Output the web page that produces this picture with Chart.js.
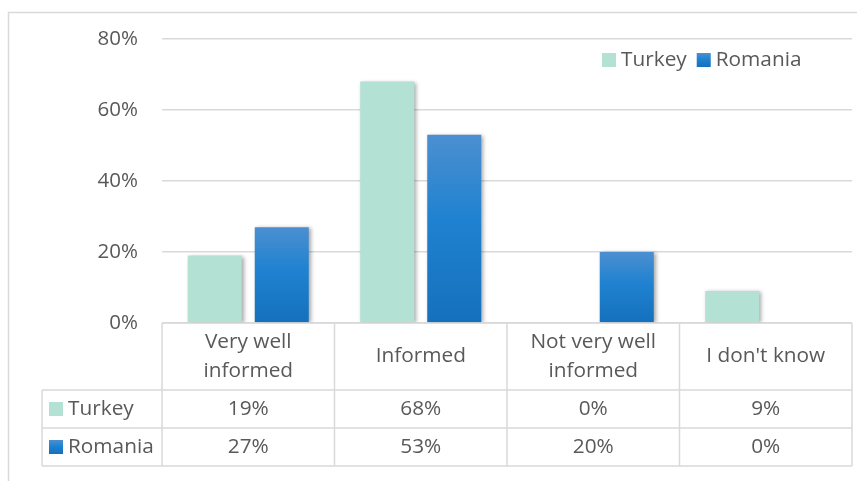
<!DOCTYPE html>
<html>
<head>
<meta charset="utf-8">
<script src="https://cdn.jsdelivr.net/npm/chart.js@4.4.1/dist/chart.umd.min.js"></script>
<style>
  html, body { margin: 0; padding: 0; background: #fff; }
  #wrap { width: 857px; height: 481px; }
</style>
</head>
<body>
<div id="wrap"><canvas id="chart" width="857" height="481"></canvas></div>
<script>
const categories = [['Very well', 'informed'], ['Informed'], ['Not very well', 'informed'], ["I don't know"]];
const seriesNames = ['Turkey', 'Romania'];
const turkey = [19, 68, 0, 9];
const romania = [27, 53, 20, 0];
const yTicks = [0, 20, 40, 60, 80];

const textColor = '#595959';
const lineColor = '#D9D9D9';
const turkeyColor = '#B3E2D5';
const font = '20.8px "Open Sans"';

function blueGradient(ctx, top, bottom) {
    const g = ctx.createLinearGradient(0, top, 0, bottom);
    g.addColorStop(0, '#4C8FD0');
    g.addColorStop(0.45, '#1F82D0');
    g.addColorStop(1, '#1570BC');
    return g;
}

const romaniaFill = (context) => {
    const chart = context.chart;
    if (!chart.chartArea || context.raw === undefined) return '#1F82D0';
    const y = chart.scales.y;
    const top = y.getPixelForValue(context.raw);
    const bottom = y.getPixelForValue(0);
    if (bottom - top < 1) return '#1F82D0';
    return blueGradient(chart.ctx, top, bottom);
};

// soft drop shadow under the bars
const shadowPlugin = {
    id: 'shadow',
    beforeDatasetsDraw(chart) {
        const ctx = chart.ctx;
        ctx.save();
        ctx.shadowColor = 'rgba(0,0,0,0.35)';
        ctx.shadowBlur = 4;
        ctx.shadowOffsetX = 2;
        ctx.shadowOffsetY = 1;
    },
    afterDatasetsDraw(chart) {
        chart.ctx.restore();
    }
};

// frame, legend and the data table under the plot
const tablePlugin = {
    id: 'table',
    beforeDraw(chart) {
        const ctx = chart.ctx;
        ctx.save();
        ctx.fillStyle = '#fff';
        ctx.fillRect(0, 0, chart.width, chart.height);
        ctx.strokeStyle = lineColor;
        ctx.lineWidth = 1.5;
        ctx.beginPath();
        ctx.moveTo(8.5, chart.height);
        ctx.lineTo(8.5, 12.5);
        ctx.lineTo(chart.width, 12.5);
        ctx.stroke();
        ctx.restore();
    },
    afterDraw(chart) {
        const ctx = chart.ctx;
        const x = chart.scales.x;
        const area = chart.chartArea;
        const n = categories.length;
        const cw = (x.right - x.left) / n;
        const top = area.bottom;
        const r1 = 390, r2 = 428, r3 = 466;
        const labelLeft = 42;
        const series = [turkey, romania];
        const swatches = [turkeyColor, null];

        ctx.save();
        ctx.strokeStyle = lineColor;
        ctx.lineWidth = 1.5;
        ctx.beginPath();
        ctx.moveTo(x.left, top); ctx.lineTo(x.right, top);
        [r1, r2, r3].forEach(yy => { ctx.moveTo(labelLeft, yy); ctx.lineTo(x.right, yy); });
        ctx.moveTo(labelLeft, r1); ctx.lineTo(labelLeft, r3);
        for (let i = 0; i <= n; i++) {
            const xx = x.left + i * cw;
            ctx.moveTo(xx, top); ctx.lineTo(xx, r3);
        }
        ctx.stroke();

        ctx.font = font;
        ctx.fillStyle = textColor;
        ctx.textAlign = 'center';
        ctx.textBaseline = 'middle';
        categories.forEach((lines, i) => {
            const cx = x.getPixelForValue(i);
            const mid = (top + r1) / 2;
            const lh = 29;
            lines.forEach((t, k) => {
                ctx.fillText(t, cx, mid + (k - (lines.length - 1) / 2) * lh);
            });
        });

        const rows = [[r1, r2], [r2, r3]];
        series.forEach((vals, s) => {
            const cy = (rows[s][0] + rows[s][1]) / 2;
            vals.forEach((v, i) => {
                ctx.fillStyle = textColor;
                ctx.textAlign = 'center';
                ctx.fillText(v + '%', x.getPixelForValue(i), cy);
            });
            ctx.fillStyle = swatches[s] || blueGradient(ctx, cy - 7, cy + 7);
            ctx.fillRect(49, cy - 7, 14, 14);
            ctx.fillStyle = textColor;
            ctx.textAlign = 'left';
            ctx.fillText(seriesNames[s], 68, cy);
        });

        // legend
        const ly = 60;
        let lx = 602;
        seriesNames.forEach((name, s) => {
            ctx.fillStyle = swatches[s] || blueGradient(ctx, ly - 7, ly + 7);
            ctx.fillRect(lx, ly - 7, 14, 14);
            ctx.fillStyle = textColor;
            ctx.textAlign = 'left';
            ctx.fillText(name, lx + 19, ly);
            lx += 19 + ctx.measureText(name).width + 10;
        });
        ctx.restore();
    }
};

new Chart(document.getElementById('chart'), {
    type: 'bar',
    data: {
        labels: categories,
        datasets: [{
            label: seriesNames[0],
            data: turkey,
            backgroundColor: turkeyColor,
            borderWidth: 0
        }, {
            label: seriesNames[1],
            data: romania,
            backgroundColor: romaniaFill,
            borderWidth: 0
        }]
    },
    options: {
        responsive: false,
        animation: false,
        categoryPercentage: 0.777,
        barPercentage: 0.806,
        layout: { padding: { left: 0, top: 39, right: 5, bottom: 158 } },
        plugins: {
            legend: { display: false },
            tooltip: { enabled: false }
        },
        scales: {
            x: { display: false },
            y: {
                min: 0,
                max: 80,
                afterFit: (s) => { s.width = 162; },
                afterBuildTicks: (s) => { s.ticks = yTicks.map(v => ({ value: v })); },
                grid: { color: lineColor, lineWidth: 1.5, drawTicks: false },
                border: { display: false },
                ticks: {
                    padding: 24,
                    color: textColor,
                    font: { family: 'Open Sans', size: 20.5 },
                    callback: (v) => v + '%'
                }
            }
        }
    },
    plugins: [shadowPlugin, tablePlugin]
});
</script>
</body>
</html>
